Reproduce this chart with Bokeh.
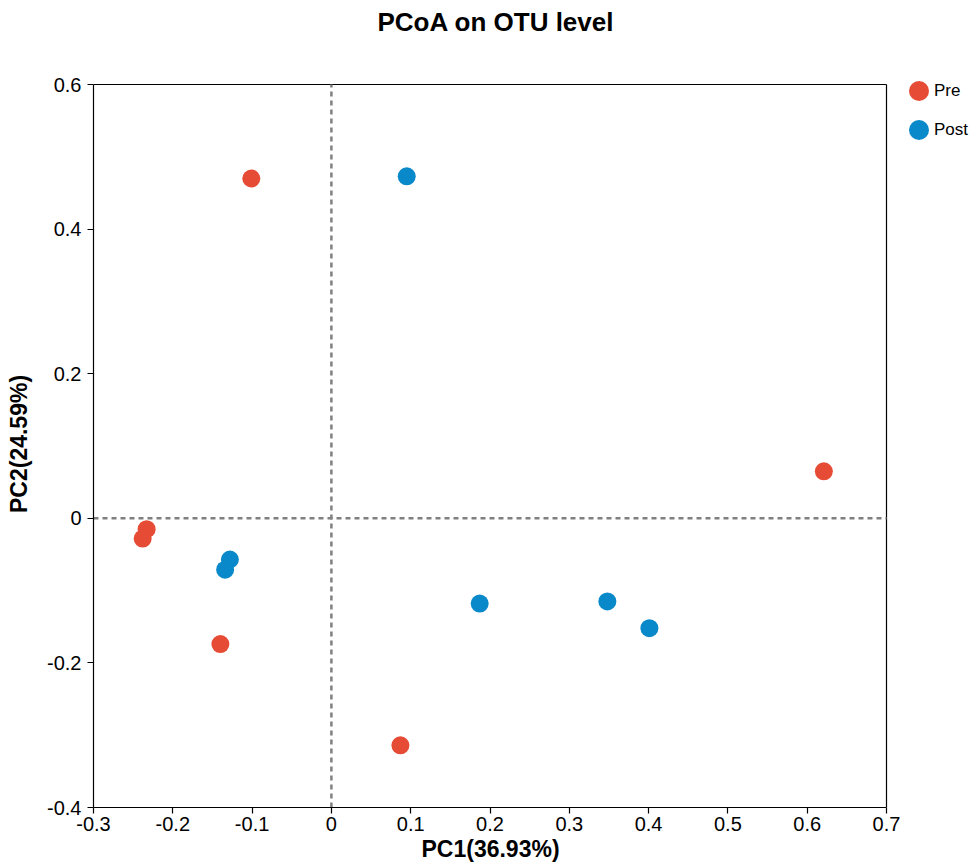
from bokeh.plotting import figure
from bokeh.models import ColumnDataSource, Legend, LegendItem, FixedTicker, Title
from bokeh.embed import file_html
from bokeh.resources import INLINE

# Data
pre_x = [-0.101, 0.621, -0.233, -0.238, -0.140, 0.087]
pre_y = [0.470, 0.065, -0.015, -0.028, -0.174, -0.314]
post_x = [0.095, -0.128, -0.134, 0.187, 0.348, 0.401]
post_y = [0.473, -0.057, -0.071, -0.118, -0.115, -0.152]
groups = ["Pre", "Post"]
colors = ["#E64B35", "#0A89CA"]
x_ticks = [-0.3, -0.2, -0.1, 0, 0.1, 0.2, 0.3, 0.4, 0.5, 0.6, 0.7]
y_ticks = [-0.4, -0.2, 0, 0.2, 0.4, 0.6]
x_min, x_max = -0.3, 0.7
y_min, y_max = -0.4, 0.6
title_text = "PCoA on OTU level"
x_label = "PC1(36.93%)"
y_label = "PC2(24.59%)"

FONT = "Liberation Sans"

# layout (pixels)
W, H = 969, 865
left, bottom = 93, 58
box_w, box_h = 793, 723          # visible plot box
extra_top = 4                    # frame extends a little above the box
frame_top = H - bottom - box_h - extra_top
xs = box_w / (x_max - x_min)
ys = box_h / (y_max - y_min)
x_end = x_max + (W - left - box_w) / xs
y_end = y_max + extra_top / ys

p = figure(width=W, height=H, output_backend="svg", toolbar_location=None,
           title=None, x_range=(x_min, x_end), y_range=(y_min, y_end),
           min_border_left=left, min_border_right=0, min_border_top=frame_top,
           min_border_bottom=bottom)

# spacer between frame and title, then the title itself
p.add_layout(Title(text=" ", text_font_size="10px", standoff=31), "above")
p.add_layout(Title(text=title_text, align="left", offset=284, text_font=FONT,
                   text_font_size="26px", text_font_style="bold",
                   text_color="black", standoff=0), "above")

p.grid.visible = False
p.outline_line_color = None
p.background_fill_color = "white"
p.border_fill_color = "white"

for ax in (p.xaxis[0], p.yaxis[0]):
    ax.axis_line_color = "black"
    ax.axis_line_width = 1.2
    ax.major_tick_line_color = "black"
    ax.major_tick_line_width = 1.2
    ax.major_tick_out = 6
    ax.major_tick_in = 0
    ax.minor_tick_line_color = None
    ax.major_label_text_font = FONT
    ax.major_label_text_font_size = "20px"
    ax.major_label_text_color = "black"
    ax.axis_label_text_font = FONT
    ax.axis_label_text_font_size = "23px"
    ax.axis_label_text_font_style = "bold"
    ax.axis_label_text_color = "black"

p.xaxis.bounds = (x_min, x_max)
p.yaxis.bounds = (y_min, y_max)
p.xaxis.ticker = FixedTicker(ticks=x_ticks)
p.yaxis.ticker = FixedTicker(ticks=y_ticks)
p.xaxis.major_label_overrides = {t: ("0" if t == 0 else f"{t:g}") for t in x_ticks}
p.yaxis.major_label_overrides = {t: ("0" if t == 0 else f"{t:g}") for t in y_ticks}
p.yaxis.axis_label = y_label
p.xaxis.major_label_standoff = 3
p.yaxis.major_label_standoff = 6
p.yaxis.axis_label_standoff = 12

# x axis label as a title below the axis, centred under the visible box
p.add_layout(Title(text=x_label, align="left", offset=328, text_font=FONT,
                   text_font_size="23px", text_font_style="bold",
                   text_color="black", standoff=0, text_line_height=1.0),
             "below")

# box: top and right edges
p.segment(x0=[x_min, x_max], y0=[y_max, y_min], x1=[x_max, x_max],
          y1=[y_max, y_max], line_color="black", line_width=1.2)
# zero reference lines
p.segment(x0=[x_min, 0], y0=[0, y_min], x1=[x_max, 0], y1=[0, y_max],
          line_color="#808080", line_width=2.5, line_dash="5 4")

src_pre = ColumnDataSource(dict(x=pre_x, y=pre_y))
src_post = ColumnDataSource(dict(x=post_x, y=post_y))
p.scatter("x", "y", source=src_pre, size=18, fill_color=colors[0], line_color=None)
p.scatter("x", "y", source=src_post, size=18, fill_color=colors[1], line_color=None)

# legend swatches: round ellipse glyphs (no visible data); legend draws
# them at 0.8 x the glyph box -> 25px box gives a 20px dot
nan = float("nan")
leg_pre = p.ellipse(x=[nan], y=[nan], width=20, height=20, width_units="screen",
                    height_units="screen", fill_color=colors[0], line_color=None)
leg_post = p.ellipse(x=[nan], y=[nan], width=20, height=20, width_units="screen",
                     height_units="screen", fill_color=colors[1], line_color=None)

legend = Legend(items=[LegendItem(label=groups[0], renderers=[leg_pre]),
                       LegendItem(label=groups[1], renderers=[leg_post])],
                location=(813, 665), border_line_color=None,
                background_fill_alpha=0, label_text_font=FONT,
                label_text_font_size="17px", label_text_color="black",
                glyph_width=25, glyph_height=25,
                label_height=25, spacing=14, label_standoff=3, padding=0,
                margin=0)
p.add_layout(legend)

open("out.html", "w").write(file_html(p, INLINE))
